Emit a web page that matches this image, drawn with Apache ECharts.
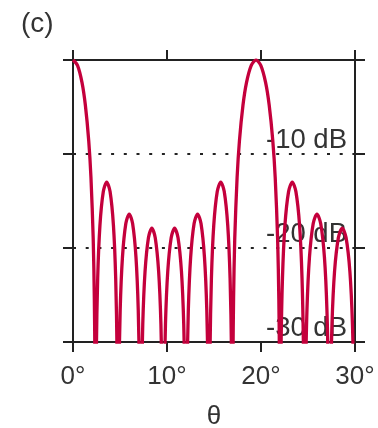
<!DOCTYPE html>
<html>
<head>
<meta charset="utf-8">
<script src="https://cdn.jsdelivr.net/npm/echarts@6/dist/echarts.min.js"></script>
<style>
  html, body { margin: 0; padding: 0; background: #fff; }
  #chart { width: 378px; height: 428px; }
</style>
</head>
<body>
<div id="chart"></div>
<script>
// angle (deg) and array gain (dB); nulls sit below the -30 dB floor
const angles = [
  0, 0.478, 0.955, 1.313, 1.672, 1.910, 2.149, 2.269, 2.328,
  2.388, 2.484, 2.627, 2.866, 3.225, 3.584, 3.943, 4.302, 4.541, 4.684,
  4.780, 4.876, 5.020, 5.260, 5.620, 5.981, 6.341, 6.701, 6.941, 7.085,
  7.181, 7.278, 7.422, 7.664, 8.026, 8.388, 8.749, 9.111, 9.353, 9.497,
  9.594, 9.691, 9.837, 10.080, 10.445, 10.809, 11.174, 11.538, 11.781, 11.927,
  12.024, 12.122, 12.269, 12.515, 12.883, 13.251, 13.619, 13.987, 14.233, 14.380,
  14.478, 14.577, 14.726, 14.974, 15.346, 15.718, 16.090, 16.462, 16.710, 16.859,
  16.958, 17.020, 17.083, 17.207, 17.458, 17.708, 18.085, 18.462, 18.966,
  19.471, 19.977, 20.487, 20.870, 21.254, 21.511, 21.767, 21.896, 21.960,
  22.024, 22.128, 22.284, 22.544, 22.934, 23.324, 23.714, 24.104, 24.364, 24.520,
  24.624, 24.730, 24.890, 25.155, 25.554, 25.952, 26.350, 26.749, 27.014, 27.174,
  27.280, 27.389, 27.552, 27.824, 28.232, 28.640, 29.048, 29.456, 29.728, 29.891,
  30
];
const gainDb = [
  0, -0.57, -2.38, -4.79, -8.57, -12.5, -19.0, -25.4, -31.6,
  -45, -31.0, -23.2, -17.6, -14.0, -13.0, -14.0, -17.6, -23.2, -31.0,
  -45, -34.4, -26.6, -21.0, -17.4, -16.4, -17.4, -21.0, -26.6, -34.4,
  -45, -35.9, -28.1, -22.5, -18.9, -17.9, -18.9, -22.5, -28.1, -35.9,
  -45, -35.9, -28.1, -22.5, -18.9, -17.9, -18.9, -22.5, -28.1, -35.9,
  -45, -34.4, -26.6, -21.0, -17.4, -16.4, -17.4, -21.0, -26.6, -34.4,
  -45, -31.0, -23.2, -17.6, -14.0, -13.0, -14.0, -17.6, -23.2, -31.0,
  -45, -31.6, -25.4, -19.0, -12.5, -8.57, -4.79, -2.38, -0.57,
  0, -0.57, -2.38, -4.79, -8.57, -12.5, -19.0, -25.4, -31.6,
  -45, -31.0, -23.2, -17.6, -14.0, -13.0, -14.0, -17.6, -23.2, -31.0,
  -45, -34.4, -26.6, -21.0, -17.4, -16.4, -17.4, -21.0, -26.6, -34.4,
  -45, -35.9, -28.1, -22.5, -18.9, -17.9, -18.9, -22.5, -28.1, -35.9,
  -45
];
const xTicks = [0, 10, 20, 30];
const yTicks = [0, -10, -20, -30];

const FONT = 'Liberation Sans';
const INK = '#222';
const TEXT = '#333';

const chart = echarts.init(document.getElementById('chart'), null, { renderer: 'canvas' });

const frameLine = { show: true, onZero: false, lineStyle: { color: INK, width: 2 } };
const outTick = { show: true, inside: false, length: 10, lineStyle: { color: INK, width: 2 } };

chart.setOption({
  animation: false,
  title: {
    text: '(c)',
    left: 16,
    top: 5,
    textStyle: { fontFamily: FONT, fontSize: 28, fontWeight: 'normal', color: TEXT }
  },
  grid: { left: 73, right: 23, top: 60, bottom: 86, containLabel: false, outerBoundsMode: 'none' },
  xAxis: [
    {
      type: 'value', position: 'bottom',
      min: xTicks[0], max: xTicks[xTicks.length - 1], interval: 10,
      name: 'θ', nameLocation: 'middle', nameGap: 62,
      nameTextStyle: { fontFamily: FONT, fontSize: 26, color: TEXT },
      axisLine: frameLine, axisTick: outTick,
      axisLabel: { margin: 22, fontFamily: FONT, fontSize: 26, color: TEXT, formatter: v => v + '°' },
      splitLine: { show: false }
    },
    {
      type: 'value', position: 'top',
      min: xTicks[0], max: xTicks[xTicks.length - 1], interval: 10,
      axisLine: frameLine, axisTick: outTick,
      axisLabel: { show: false }, splitLine: { show: false }
    }
  ],
  yAxis: [
    {
      type: 'value', position: 'left',
      min: yTicks[yTicks.length - 1], max: yTicks[0], interval: 10,
      axisLine: frameLine, axisTick: outTick,
      axisLabel: { show: false },
      splitLine: { show: true, lineStyle: { color: INK, width: 2, type: [3, 9.7], dashOffset: 0 } }
    },
    {
      type: 'value', position: 'right',
      min: yTicks[yTicks.length - 1], max: yTicks[0], interval: 10,
      axisLine: frameLine, axisTick: outTick,
      axisLabel: {
        inside: true, margin: 8, verticalAlign: 'bottom',
        fontFamily: FONT, fontSize: 27.5, color: TEXT,
        formatter: v => (v === 0 ? '' : v + ' dB')
      },
      splitLine: { show: false }
    }
  ],
  series: [{
    type: 'line',
    data: angles.map((a, i) => [a, gainDb[i]]),
    showSymbol: false,
    smooth: 0.3,
    clip: true,
    lineStyle: { color: '#c4003c', width: 3.3 },
    z: 3
  }]
});
</script>
</body>
</html>
